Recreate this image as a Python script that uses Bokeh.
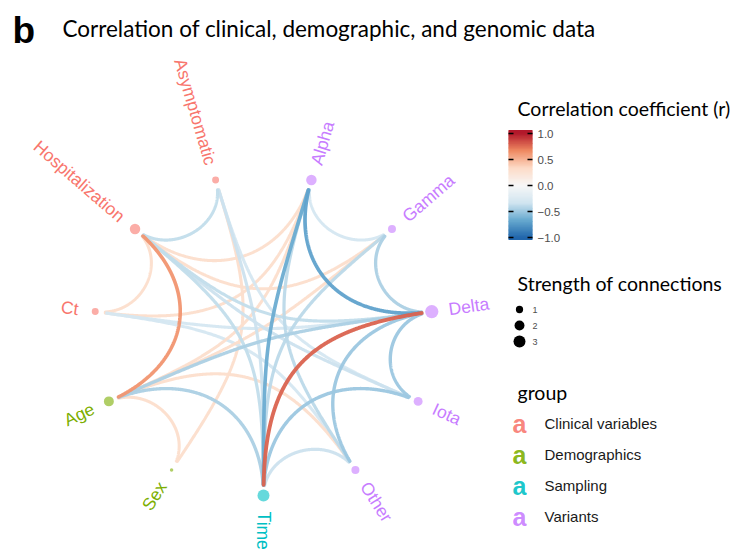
import numpy as np
from bokeh.plotting import figure
from bokeh.models import Range1d, ColumnDataSource
from bokeh.embed import file_html
from bokeh.resources import INLINE
from bokeh.core.properties import value

# ---------------- data ----------------
nodes = ["Time", "Other", "Iota", "Delta", "Gamma", "Alpha",
         "Asymptomatic", "Hospitalization", "Ct", "Age", "Sex"]
node_group = ["Sampling", "Variants", "Variants", "Variants", "Variants", "Variants",
              "Clinical variables", "Clinical variables", "Clinical variables",
              "Demographics", "Demographics"]
node_strength = [3.0, 1.25, 1.6, 3.7, 1.25, 2.25, 0.9, 2.25, 0.9, 2.0, 0.1]

group_names = ["Clinical variables", "Demographics", "Sampling", "Variants"]
group_colors = ["#F8766D", "#7CAE00", "#00BFC4", "#C77CFF"]

edge_from = ["Asymptomatic", "Asymptomatic", "Asymptomatic", "Hospitalization", "Hospitalization",
             "Hospitalization", "Hospitalization", "Hospitalization", "Hospitalization", "Hospitalization",
             "Ct", "Ct", "Ct", "Age", "Age", "Age", "Age", "Age", "Age",
             "Time", "Time", "Time", "Time", "Time",
             "Iota", "Other", "Other", "Alpha", "Alpha", "Gamma", "Iota"]
edge_to = ["Hospitalization", "Sex", "Time", "Ct", "Age",
           "Alpha", "Gamma", "Delta", "Time", "Iota",
           "Alpha", "Delta", "Other", "Sex", "Time", "Alpha", "Gamma", "Delta", "Other",
           "Delta", "Alpha", "Iota", "Other", "Gamma",
           "Delta", "Delta", "Alpha", "Gamma", "Delta", "Delta", "Asymptomatic"]
edge_r = [-0.38, 0.3, -0.35, 0.3, 0.62,
          0.3, 0.3, -0.38, -0.38, -0.35,
          0.3, -0.3, -0.3, 0.3, -0.45, 0.3, 0.3, -0.45, 0.3,
          0.78, -0.65, -0.5, -0.35, -0.4,
          -0.5, -0.5, -0.4, -0.3, -0.7, -0.45, -0.3]

cbar_ticks = [-1.0, -0.5, 0.0, 0.5, 1.0]
cbar_labels = ["\u22121.0", "\u22120.5", "0.0", "0.5", "1.0"]
size_breaks = [1, 2, 3]

rdbu = ["#2166AC", "#67A9CF", "#D1E5F0", "#F7F7F7", "#FDDBC7", "#EF8A62", "#B2182B"]

# ---------------- helpers ----------------
W, H = 737.0, 553.0
def py(page_y):
    return H - page_y

def hex2rgb(h):
    h = h.lstrip("#")
    return np.array([int(h[i:i + 2], 16) for i in (0, 2, 4)], dtype=float)

pal_rgb = np.array([hex2rgb(c) for c in rdbu])
pal_pos = np.linspace(-1, 1, len(rdbu))

def rcolor(r):
    r = float(np.clip(r, -1, 1))
    rgb = [np.interp(r, pal_pos, pal_rgb[:, k]) for k in range(3)]
    return "#%02x%02x%02x" % tuple(int(round(v)) for v in rgb)

def node_diam(v):
    return float(np.sqrt(7.5 + 45.5 * v))

# layout (circle in normalized units, mapped to page pixels)
CX, CY, RX, RY = 263.0, py(334.0), 170.0, 161.0
n = len(nodes)
ang = np.deg2rad(-90.0 + np.arange(n) * 360.0 / n)
nx = CX + RX * np.cos(ang)
ny = CY + RY * np.sin(ang)
idx = {nm: i for i, nm in enumerate(nodes)}
gcol = dict(zip(group_names, group_colors))

CAP = 10.0
def edge_curve(i, j):
    ti, tj = ang[i], ang[j]
    d = (tj - ti + np.pi) % (2 * np.pi) - np.pi
    s = np.sin(abs(d) / 2.0)
    P0 = np.array([np.cos(ti), np.sin(ti)])
    P3 = np.array([np.cos(tj), np.sin(tj)])
    P1 = P0 * (1 - s)
    P2 = P3 * (1 - s)
    t = np.linspace(0, 1, 300)[:, None]
    B = (1 - t) ** 3 * P0 + 3 * (1 - t) ** 2 * t * P1 + 3 * (1 - t) * t ** 2 * P2 + t ** 3 * P3
    X = CX + RX * B[:, 0]
    Y = CY + RY * B[:, 1]
    d0 = np.hypot(X - X[0], Y - Y[0])
    d1 = np.hypot(X - X[-1], Y - Y[-1])
    keep = (d0 >= CAP) & (d1 >= CAP)
    return list(X[keep]), list(Y[keep])

# ---------------- figure ----------------
p = figure(width=737, height=553, x_range=Range1d(0, W), y_range=Range1d(0, H),
           output_backend="svg", toolbar_location=None, min_border=0)
p.axis.visible = False
p.grid.visible = False
p.outline_line_color = None
p.background_fill_color = "white"

# edges (weak first)
order = np.argsort(np.abs(edge_r))
xs, ys, cols, wids = [], [], [], []
for k in order:
    X, Y = edge_curve(idx[edge_from[k]], idx[edge_to[k]])
    xs.append(X); ys.append(Y)
    cols.append(rcolor(edge_r[k]))
    wids.append(2.6 + 1.6 * abs(edge_r[k]))
p.multi_line(xs="xs", ys="ys", line_color="c", line_width="w", line_alpha=0.95,
             line_cap="round",
             source=ColumnDataSource(dict(xs=xs, ys=ys, c=cols, w=wids)))

# nodes
p.scatter(x="x", y="y", size="s", fill_color="c", line_color=None, fill_alpha=0.6,
          source=ColumnDataSource(dict(x=nx, y=ny, s=[node_diam(v) for v in node_strength],
                                       c=[gcol[g] for g in node_group])))

# node labels
LR = 1.1
lx, ly, la, lal, lt, lc = [], [], [], [], [], []
for i, nm in enumerate(nodes):
    deg = -90.0 + i * 360.0 / n
    lx.append(CX + RX * LR * np.cos(ang[i]))
    ly.append(CY + RY * LR * np.sin(ang[i]))
    if -90.0 <= deg < 90.0:
        la.append(np.deg2rad(deg)); lal.append("left")
    else:
        la.append(np.deg2rad(deg - 180.0)); lal.append("right")
    lt.append(nm)
    lc.append(gcol[node_group[i]])
p.text(x="x", y="y", text="t", angle="a", text_align="al", text_baseline="middle",
       text_color="c", text_font=value("Liberation Sans"), text_font_size="17.5px",
       source=ColumnDataSource(dict(x=lx, y=ly, t=lt, a=la, al=lal, c=lc)))

# ---------------- title ----------------
p.text(x=[12], y=[py(30)], text=["b"], text_font=value("Liberation Sans"),
       text_font_style="bold", text_font_size="37px", text_baseline="middle", text_color="black")
p.text(x=[62], y=[py(28)], text=["Correlation of clinical, demographic, and genomic data"],
       text_font=value("Lato"), text_font_size="22.5px", text_baseline="middle", text_color="black")

# ---------------- colorbar legend ----------------
LEGX = 517
p.text(x=[LEGX], y=[py(108)], text=["Correlation coefficient (r)"], text_font=value("Lato"),
       text_font_size="19.5px", text_baseline="middle", text_color="black")
def cb_y(r):
    return py(185.0 - 52.0 * r)
grad = np.linspace(-1.05, 1.05, 85)
gmid = (grad[:-1] + grad[1:]) / 2
p.quad(left=508, right=532, bottom=[cb_y(v) for v in grad[:-1]],
       top=[cb_y(v) + 0.8 for v in grad[1:]],
       fill_color=[rcolor(v) for v in gmid], line_color=None)
tk_y = [cb_y(v) for v in cbar_ticks]
p.segment(x0=[508] * 5, x1=[513] * 5, y0=tk_y, y1=tk_y, line_color="black", line_width=1.5)
p.segment(x0=[527] * 5, x1=[532] * 5, y0=tk_y, y1=tk_y, line_color="black", line_width=1.5)
p.text(x=[537] * 5, y=tk_y, text=cbar_labels, text_font=value("Liberation Sans"),
       text_font_size="11.5px", text_baseline="middle", text_color="#4D4D4D")

# ---------------- size legend ----------------
p.text(x=[LEGX], y=[py(283)], text=["Strength of connections"], text_font=value("Lato"),
       text_font_size="19.5px", text_baseline="middle", text_color="black")
sy = [py(v) for v in (309, 325, 341)]
p.scatter(x=[519] * 3, y=sy, size=[node_diam(v) for v in size_breaks], fill_color="black",
          line_color=None)
p.text(x=[532] * 3, y=sy, text=[str(v) for v in size_breaks], text_font=value("Liberation Sans"),
       text_font_size="9px", text_baseline="middle", text_color="#4D4D4D")

# ---------------- group legend ----------------
p.text(x=[LEGX], y=[py(392)], text=["group"], text_font=value("Lato"),
       text_font_size="19.5px", text_baseline="middle", text_color="black")
gy = [py(v) for v in (423, 454, 485, 516)]
p.text(x=[519] * 4, y=gy, text=["a"] * 4, text_color=group_colors, text_font=value("Liberation Sans"),
       text_font_style="bold", text_font_size="25px", text_align="center", text_baseline="middle",
       text_alpha=0.9)
p.text(x=[544] * 4, y=gy, text=group_names, text_font=value("Liberation Sans"),
       text_font_size="15px", text_baseline="middle", text_color="#1A1A1A")

open("out.html", "w").write(file_html(p, INLINE))
